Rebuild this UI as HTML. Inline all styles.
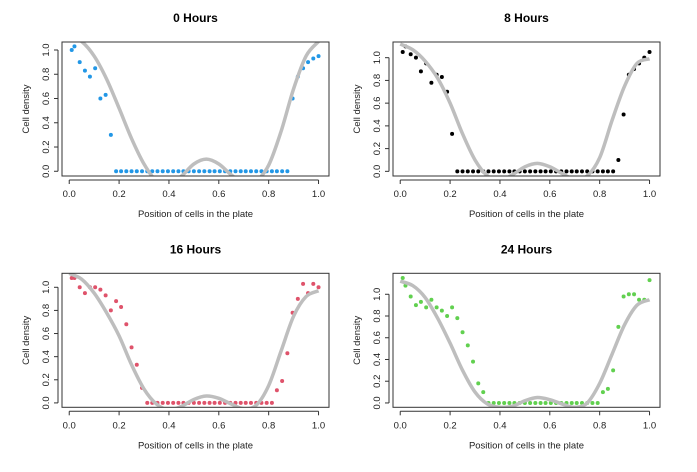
<!DOCTYPE html>
<html><head><meta charset="utf-8"><style>
body{margin:0;background:#fff}
svg{display:block;font-family:"Liberation Sans",Arial,sans-serif}
</style></head><body>
<svg id="c" width="697" height="472"></svg>
<script>
const xs=[0.01,0.021,0.042,0.063,0.083,0.104,0.125,0.146,0.167,0.188,0.208,0.229,0.25,0.271,0.292,0.313,0.333,0.354,0.375,0.396,0.417,0.438,0.458,0.479,0.5,0.521,0.542,0.563,0.583,0.604,0.625,0.646,0.667,0.688,0.708,0.729,0.75,0.771,0.792,0.813,0.833,0.854,0.875,0.896,0.917,0.938,0.958,0.979,1.0];
const z=n=>Array(n).fill(0);
const y0h=[1.0,1.03,0.90,0.83,0.78,0.85,0.60,0.63,0.30].concat(z(34),[0.60,0.78,0.85,0.90,0.93,0.95]);
const y8h=[1.05,1.10,1.03,1.00,0.88,0.95,0.78,0.85,0.83,0.70,0.33].concat(z(31),[0.10,0.50,0.85,0.90,0.95,1.0,1.05]);
const y16h=[1.08,1.08,1.00,0.95,1.0,1.00,0.98,0.93,0.80,0.88,0.83,0.68,0.48,0.33,0.13].concat(z(25),[0.11,0.19,0.43,0.78,0.90,1.03,0.95,1.03,1.00]);
const y24h=[1.15,1.08,0.98,0.90,0.93,0.88,0.95,0.88,0.85,0.80,0.88,0.78,0.65,0.53,0.38,0.18,0.10].concat(z(22),[0.10,0.13,0.30,0.70,0.98,1.00,1.00,0.95,0.95,1.13]);
const cx=[0,0.05,0.1,0.15,0.2,0.25,0.3,0.35,0.4,0.45,0.5,0.55,0.6,0.65,0.7,0.75,0.8,0.85,0.9,0.95,1.0];
const c0h=[1.12,1.07,0.95,0.76,0.52,0.27,0.06,-0.08,-0.1,-0.04,0.06,0.1,0.06,-0.03,-0.1,-0.08,0.05,0.33,0.68,0.95,1.07];
const c8h=[1.12,1.07,0.97,0.82,0.6,0.33,0.1,-0.04,-0.08,-0.03,0.04,0.07,0.04,-0.02,-0.07,-0.04,0.12,0.45,0.75,0.95,0.99];
const c16h=[1.12,1.07,0.95,0.78,0.58,0.33,0.12,-0.01,-0.06,-0.03,0.03,0.06,0.04,-0.01,-0.05,-0.02,0.15,0.45,0.75,0.92,0.97];
const c24h=[1.12,1.08,0.97,0.78,0.55,0.3,0.1,-0.01,-0.04,-0.03,0.02,0.05,0.03,-0.01,-0.04,0.0,0.18,0.45,0.72,0.9,0.95];
const xTicks=["0.0","0.2","0.4","0.6","0.8","1.0"];
const yTicks=["0.0","0.2","0.4","0.6","0.8","1.0"];
const panels=[
 {t:"0 Hours",ox:0,oy:0,ymin:-0.039,ymax:1.066,y:y0h,c:c0h,col:"#2297E6"},
 {t:"8 Hours",ox:331,oy:0,ymin:-0.041,ymax:1.138,y:y8h,c:c8h,col:"#000000"},
 {t:"16 Hours",ox:0,oy:231.3,ymin:-0.038,ymax:1.121,y:y16h,c:c16h,col:"#DF536B"},
 {t:"24 Hours",ox:331,oy:231.3,ymin:-0.040,ymax:1.193,y:y24h,c:c24h,col:"#61D04F"}];
const svg=document.getElementById('c');const NS="http://www.w3.org/2000/svg";
function mk(t,a,p){const e=document.createElementNS(NS,t);for(const k in a)e.setAttribute(k,a[k]);(p||svg).appendChild(e);return e;}
panels.forEach((P,i)=>{
 const L=62+P.ox,R=329+P.ox,T=42+P.oy,B=176+P.oy;
 const X=v=>L+(v+0.029)/(1.071)*(R-L);
 const Y=v=>B-(v-P.ymin)/(P.ymax-P.ymin)*(B-T);
 const g=mk('g',{});
 
 
 const cp=mk('clipPath',{id:'cp'+i},g);mk('rect',{x:L,y:T,width:R-L,height:B-T},cp);
 let tt=mk('text',{x:(L+R)/2,y:T-20,'text-anchor':'middle','font-size':12,'font-weight':'bold'},g);tt.textContent=P.t;
 
 
 const pg=mk('g',{'clip-path':`url(#cp${i})`},g);
 xs.forEach((x,j)=>{const c=mk('circle',{cx:X(x),cy:Y(P.y[j]),r:2,fill:P.col},pg);
  
  });
 const pts=cx.map((x,j)=>[X(x),Y(P.c[j])]);
 let d=`M${pts[0][0]},${pts[0][1]}`;
 for(let k=0;k<pts.length-1;k++){const p0=pts[Math.max(0,k-1)],p1=pts[k],p2=pts[k+1],p3=pts[Math.min(pts.length-1,k+2)];
  d+=`C${p1[0]+(p2[0]-p0[0])/6},${p1[1]+(p2[1]-p0[1])/6} ${p2[0]-(p3[0]-p1[0])/6},${p2[1]-(p3[1]-p1[1])/6} ${p2[0]},${p2[1]}`;}
 const cl=mk('path',{d:d,fill:'none',stroke:'#bebebe','stroke-width':3.5},pg);
 
 
 const bx=mk('rect',{x:L,y:T,width:R-L,height:B-T,fill:'none',stroke:'#333','stroke-width':1},g);
 
 
 mk('line',{x1:X(0),x2:X(1),y1:B+4,y2:B+4,stroke:'#333'},g);
 xTicks.forEach(s=>{const v=parseFloat(s);mk('line',{x1:X(v),x2:X(v),y1:B+4,y2:B+8,stroke:'#333'},g);
  const t=mk('text',{x:X(v),y:B+21,'text-anchor':'middle','font-size':9.5,fill:'#222'},g);t.textContent=s;
  
  });
 mk('line',{x1:L-4,x2:L-4,y1:Y(0),y2:Y(1),stroke:'#333'},g);
 yTicks.forEach(s=>{const v=parseFloat(s);mk('line',{x1:L-8,x2:L-4,y1:Y(v),y2:Y(v),stroke:'#333'},g);
  const t=mk('text',{x:L-13,y:Y(v),'text-anchor':'middle','font-size':9.5,fill:'#222',transform:`rotate(-90 ${L-13} ${Y(v)})`},g);t.textContent=s;
  
  });
 const xt=mk('text',{x:(L+R)/2,y:B+41,'text-anchor':'middle','font-size':9.5,fill:'#222'},g);xt.textContent="Position of cells in the plate";
 
 
 const yc=(T+B)/2;
 const yt=mk('text',{x:L-33,y:yc,'text-anchor':'middle','font-size':9.5,fill:'#222',transform:`rotate(-90 ${L-33} ${yc})`},g);yt.textContent="Cell density";
 
 
});
</script>
</body></html>
